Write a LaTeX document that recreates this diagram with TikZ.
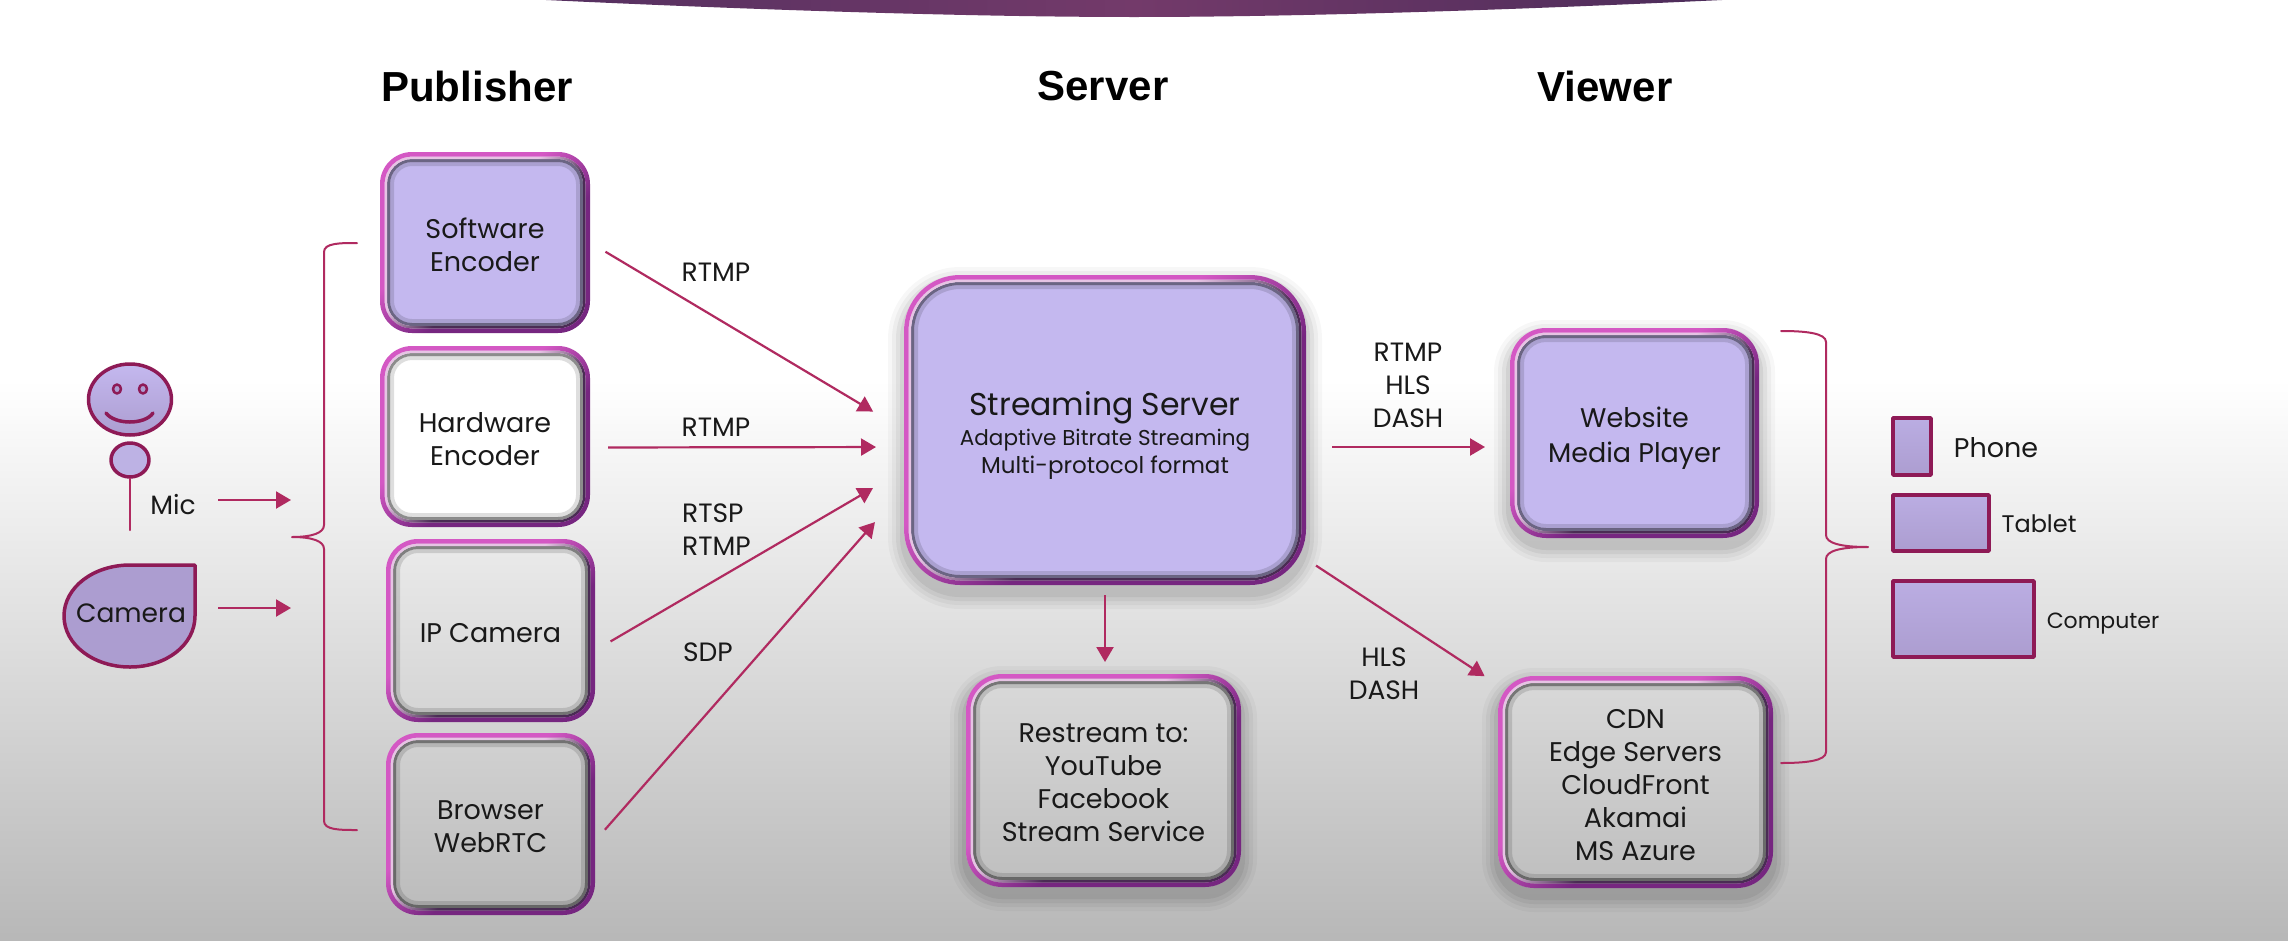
\documentclass[tikz,border=0pt]{standalone}
\usepackage{fontspec}
\setmainfont{Poppins}
\newfontfamily\titlefont{Liberation Sans}
\usetikzlibrary{arrows.meta,calc,shapes.geometric}
\definecolor{wine}{HTML}{B02A60}
\definecolor{shapeline}{HTML}{8E1A56}
\definecolor{lilac}{HTML}{C4B8EF}
\definecolor{lilacb}{HTML}{AC9DD0}
\definecolor{barl}{HTML}{553060}
\definecolor{barm}{HTML}{733A6A}
\definecolor{barr}{HTML}{4C2C5A}
\definecolor{ringt}{HTML}{D458C4}
\definecolor{ringb}{HTML}{762680}
\definecolor{innerlight}{HTML}{E6C4E4}
\definecolor{innerdark}{HTML}{4A2C54}
\pgfdeclareverticalshading{bevelouter}{100bp}{color(0bp)=(ringb); color(42bp)=(ringb); color(58bp)=(ringt); color(100bp)=(ringt)}
\pgfdeclareverticalshading{bevelinner}{100bp}{color(0bp)=(innerdark); color(44bp)=(innerdark); color(56bp)=(innerlight); color(100bp)=(innerlight)}
\tikzset{
  conn/.style={draw=wine,line width=2.2pt,-{Triangle[length=15pt,width=17pt,fill=wine]}},
  brace/.style={draw=wine,line width=2pt,line cap=round},
  boxtext/.style={inner sep=0pt,outer sep=0pt,align=center,text=black!90,font=\fontsize{27}{33}\selectfont},
  label/.style={inner sep=0pt,text=black!90,font=\fontsize{26.5}{33}\selectfont,align=center},
  labell/.style={inner sep=0pt,text=black!90,font=\fontsize{26.5}{33}\selectfont,align=left},
  coltitle/.style={inner sep=0pt,font=\titlefont\bfseries\fontsize{42}{42}\selectfont},
  device/.style={draw=shapeline,line width=3.5pt,top color=lilac!60!lilacb,bottom color=lilacb},
}
% #1 name, #2-#5 x1 y1 x2 y2, #6 radius, #7 fill (empty or colour), #8 shadow 0/1, #9 text
\newcommand{\bevelbox}[9]{%
  \ifnum#8=1
    \foreach \s/\o in {16/.03,12/.04,8/.05,4/.06}{%
      \fill[black,opacity=\o,even odd rule]
        [rounded corners=#6+\s] ({#2-\s},{#3-\s+8}) rectangle ({#4+\s},{#5+\s+8})
        [rounded corners=#6] (#2,#3) rectangle (#4,#5);}
  \fi
  \ifx\relax#7\relax\else
    \fill[#7,rounded corners=#6-7] ({#2+7},{#3+7}) rectangle ({#4-7},{#5-7});
  \fi
  \fill[even odd rule,black,opacity=.45]
    [rounded corners=#6-7] ({#2+7},{#3+7}) rectangle ({#4-7},{#5-7})
    [rounded corners=#6-10] ({#2+10},{#3+10}) rectangle ({#4-10},{#5-10});
  \fill[even odd rule,black,opacity=.13]
    [rounded corners=#6-10] ({#2+10},{#3+10}) rectangle ({#4-10},{#5-10})
    [rounded corners=#6-14] ({#2+14},{#3+14}) rectangle ({#4-14},{#5-14});
  \shade[even odd rule,shading=bevelinner,shading angle=45]
    [rounded corners=#6-4.5] ({#2+4.5},{#3+4.5}) rectangle ({#4-4.5},{#5-4.5})
    [rounded corners=#6-7] ({#2+7},{#3+7}) rectangle ({#4-7},{#5-7});
  \shade[even odd rule,shading=bevelouter,shading angle=40]
    [rounded corners=#6] (#2,#3) rectangle (#4,#5)
    [rounded corners=#6-4.5] ({#2+4.5},{#3+4.5}) rectangle ({#4-4.5},{#5-4.5});
  \node[boxtext,minimum width={#4-#2},minimum height={#5-#3}] (#1) at ({(#2+#4)/2},{(#3+#5)/2}) {#9};
}
\begin{document}
\begin{tikzpicture}[x=1pt,y=-1pt,line join=round]
\useasboundingbox (0,0) rectangle (2288,940);
\fill[white] (0,0) rectangle (2288,380);
\shade[top color=white,bottom color=black!28] (0,380) rectangle (2288,940);
% top bar
\shade[left color=barl,right color=barr,middle color=barm]
  (546,0) .. controls (800,12) and (1000,17) .. (1134,17) .. controls (1270,17) and (1470,12) .. (1722,0) -- cycle;
% titles
\node[coltitle] (tpub) at (477,86) {Publisher};
\node[coltitle] (tsrv) at (1103,86) {Server};
\node[coltitle] (tvie) at (1605,86) {Viewer};
% boxes
\bevelbox{sw}{380}{152}{590}{333}{32}{lilac}{0}{\rule{0pt}{26pt}Software\\Encoder}
\bevelbox{hw}{380}{346}{590}{527}{32}{white}{0}{\rule{0pt}{26pt}Hardware\\Encoder}
\bevelbox{ip}{386}{539}{595}{722}{32}{}{0}{\rule{0pt}{24pt}IP Camera}
\bevelbox{br}{386}{733}{595}{915}{32}{}{0}{\rule{0pt}{25pt}Browser\\WebRTC}
\bevelbox{server}{904}{275}{1306}{585}{56}{lilac}{1}{\fontsize{31.5}{34}\selectfont\rule{0pt}{35pt}Streaming Server\\[-3pt]\fontsize{21.5}{27}\selectfont Adaptive Bitrate Streaming\\[-5pt]\fontsize{23}{27}\selectfont Multi-protocol format}
\bevelbox{rs}{966}{674}{1241}{887}{36}{}{1}{\rule{0pt}{23pt}Restream to:\\YouTube\\Facebook\\Stream Service}
\bevelbox{web}{1510}{328}{1759}{538}{36}{lilac}{1}{\rule{0pt}{31pt}Website\\[2pt]Media Player}
\bevelbox{cdn}{1498}{676}{1773}{888}{36}{}{1}{\rule{0pt}{25pt}CDN\\Edge Servers\\CloudFront\\Akamai\\MS Azure}
% arrows between boxes
\draw[conn,shorten <=18pt,shorten >=36pt] (sw.east) -- (server.west);
\draw[conn,shorten <=18pt,shorten >=28pt] ([yshift=-11pt]hw.east) -- ([yshift=-17pt]server.west);
\draw[conn,shorten <=18pt,shorten >=36pt] ([yshift=-20pt]ip.east) -- ([yshift=-40pt]server.west);
\draw[conn,shorten <=15pt,shorten >=44pt] ([yshift=-17pt]br.east) -- ([yshift=-59pt]server.west);
\draw[conn,shorten <=26pt,shorten >=25pt] ([yshift=-17pt]server.east) -- ([yshift=-14pt]web.west);
\draw[conn,shorten <=12pt,shorten >=16pt] ([yshift=26pt]server.south east) -- ([yshift=-9pt]cdn.north west);
\draw[conn,shorten <=10pt,shorten >=12pt] (server.south) -- (server.south |- rs.north);
% connector labels
\node[label] (l1) at (716,272) {RTMP};
\node[label] (l2) at (716,427) {RTMP};
\node[labell,anchor=west] (l3) at (682,530) {RTSP\\RTMP};
\node[label] (l4) at (708,652) {SDP};
\node[label] (l5) at (1408,385) {RTMP\\HLS\\DASH};
\node[label] (l6) at (1384,674) {HLS\\DASH};
% person
\node[draw=shapeline,line width=3.5pt,ellipse,minimum width=83pt,minimum height=71pt,inner sep=0pt,top color=lilac,bottom color=lilacb] (face) at (130,399.5) {};
\fill[lilacb,draw=shapeline,line width=2.5pt] (117,389) ellipse (4pt and 4.5pt) (143,389) ellipse (4pt and 4.5pt);
\draw[shapeline,line width=3.5pt,line cap=round] (106,413) .. controls (115,425) and (145,425) .. (153,413);
\node[draw=shapeline,line width=3.5pt,ellipse,minimum width=38pt,minimum height=34pt,inner sep=0pt,fill=lilac!90!gray] (micball) at (130,460) {};
\coordinate (micend) at (130,530);
\draw[brace] (micball.south) -- (micend);
\node[label] (mic) at (173,505) {Mic};
\coordinate (micin) at (218,500);
\coordinate (micout) at (291,500);
\draw[conn] (micin) -- (micout);
% camera
\draw[draw=shapeline,line width=3.5pt,fill=lilacb]
  (195,565) -- (195,616) .. controls (195,645) and (166,667) .. (130,667)
  .. controls (94,667) and (64,645) .. (64,616)
  .. controls (64,587) and (94,565) .. (130,565) -- cycle;
\node[label] (cam) at (131,613) {Camera};
\coordinate (camin) at (218,608);
\coordinate (camout) at (291,608);
\draw[conn] (camin) -- (camout);
% left brace
\draw[brace] (357,243) .. controls (340,243) and (324,243) .. (324,252) -- (324,525)
  .. controls (324,533) and (312,537) .. (292,537)
  .. controls (312,537) and (324,541) .. (324,549) -- (324,821)
  .. controls (324,830) and (340,830) .. (357,830);
% right brace
\draw[brace] (1781,331) .. controls (1805,331) and (1826,333) .. (1826,342) -- (1826,535)
  .. controls (1826,543) and (1840,547) .. (1868,547)
  .. controls (1840,547) and (1826,551) .. (1826,559) -- (1826,752)
  .. controls (1826,761) and (1805,763) .. (1781,763);
% devices
\node[device,minimum width=38pt,minimum height=57pt,inner sep=0pt] (phone) at (1912,446.5) {};
\node[device,minimum width=96pt,minimum height=56pt,inner sep=0pt] (tablet) at (1941,523) {};
\node[device,minimum width=141pt,minimum height=76pt,inner sep=0pt] (computer) at (1963.5,619) {};
\node[label,font=\fontsize{27}{33}\selectfont] (ph) at (1996,448) {Phone};
\node[label,font=\fontsize{24}{26}\selectfont] (ta) at (2039,524) {Tablet};
\node[label,font=\fontsize{22}{26}\selectfont] (co) at (2103,624) {Computer};
\end{tikzpicture}
\end{document}
